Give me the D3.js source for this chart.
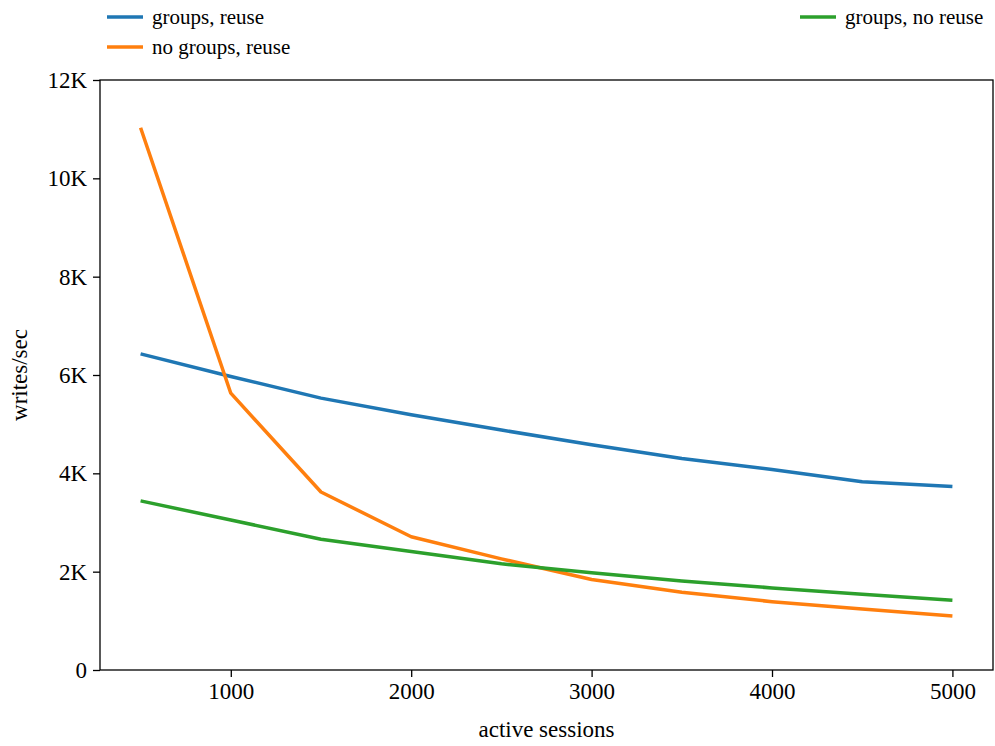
<!DOCTYPE html>
<html>
<head>
<meta charset="utf-8">
<script src="https://cdn.jsdelivr.net/npm/d3@7"></script>
<style>
  body { margin: 0; background: #fff; }
  text { font-family: "Liberation Serif", "Times New Roman", serif; fill: #000; }
</style>
</head>
<body>
<div id="chart"></div>
<script>
// data (writes/sec, in K)
var sessions = [500, 1000, 1500, 2000, 2500, 3000, 3500, 4000, 4500, 5000];
var groupsReuse = [6.43, 5.97, 5.53, 5.19, 4.88, 4.58, 4.30, 4.08, 3.83, 3.73];
var noGroupsReuse = [11.03, 5.63, 3.62, 2.71, 2.26, 1.84, 1.58, 1.39, 1.24, 1.10];
var groupsNoReuse = [3.44, 3.05, 2.66, 2.41, 2.16, 1.98, 1.81, 1.67, 1.54, 1.42];
var seriesNames = ["groups, reuse", "no groups, reuse", "groups, no reuse"];
var colors = ["#1f77b4", "#ff7f0e", "#2ca02c"];
var yTicks = [0, 2, 4, 6, 8, 10, 12];
var xTicks = [1000, 2000, 3000, 4000, 5000];

var W = 995, H = 746;
var margin = {top: 80, right: 2, bottom: 76, left: 100};
var width = W - margin.left - margin.right,
    height = H - margin.top - margin.bottom;

var svg = d3.select("#chart")
  .append("svg")
    .attr("width", W)
    .attr("height", H);

var g = svg.append("g")
    .attr("transform", `translate(${margin.left},${margin.top})`);

// matplotlib-ish 5% margin on x
var x = d3.scaleLinear()
  .domain([500 - 225, 5000 + 225])
  .range([0, width]);

var y = d3.scaleLinear()
  .domain([0, 12])
  .range([height, 0]);

var xAxis = g.append("g")
  .attr("transform", `translate(0,${height})`)
  .call(d3.axisBottom(x).tickValues(xTicks).tickSize(7).tickPadding(6).tickFormat(d3.format("d")));

var yAxis = g.append("g")
  .call(d3.axisLeft(y).tickValues(yTicks).tickSize(7).tickPadding(6)
    .tickFormat(d => d === 0 ? "0" : d + "K"));

[xAxis, yAxis].forEach(function(a) {
  a.select(".domain").remove();
  a.selectAll("line").attr("stroke", "#000").attr("stroke-width", 1.3);
  a.selectAll("text").style("font-size", "23px").attr("fill", "#000");
});

// frame
g.append("rect")
  .attr("width", width)
  .attr("height", height)
  .attr("fill", "none")
  .attr("stroke", "#000")
  .attr("stroke-width", 1.3);

var data = [groupsReuse, noGroupsReuse, groupsNoReuse];

var line = d3.line()
  .x((d, i) => x(sessions[i]))
  .y(d => y(d));

g.selectAll(".series")
  .data(data)
  .join("path")
    .attr("class", "series")
    .attr("fill", "none")
    .attr("stroke", (d, i) => colors[i])
    .attr("stroke-width", 3.5)
    .attr("stroke-linejoin", "round")
    .attr("d", line);

// axis labels
svg.append("text")
  .attr("x", margin.left + width / 2)
  .attr("y", 737)
  .attr("text-anchor", "middle")
  .style("font-size", "23px")
  .text("active sessions");

svg.append("text")
  .attr("transform", `translate(27,${margin.top + height / 2}) rotate(-90)`)
  .attr("text-anchor", "middle")
  .style("font-size", "23px")
  .text("writes/sec");

// legend (above the axes)
var legendPos = [[107, 17], [107, 47], [800, 17]];
var legend = svg.selectAll(".legend")
  .data(seriesNames)
  .join("g")
    .attr("class", "legend")
    .attr("transform", (d, i) => `translate(${legendPos[i][0]},${legendPos[i][1]})`);

legend.append("line")
  .attr("x1", 0).attr("x2", 36)
  .attr("stroke", (d, i) => colors[i])
  .attr("stroke-width", 3.5);

legend.append("text")
  .attr("x", 45)
  .attr("y", 7)
  .style("font-size", "21px")
  .text(d => d);
</script>
</body>
</html>
